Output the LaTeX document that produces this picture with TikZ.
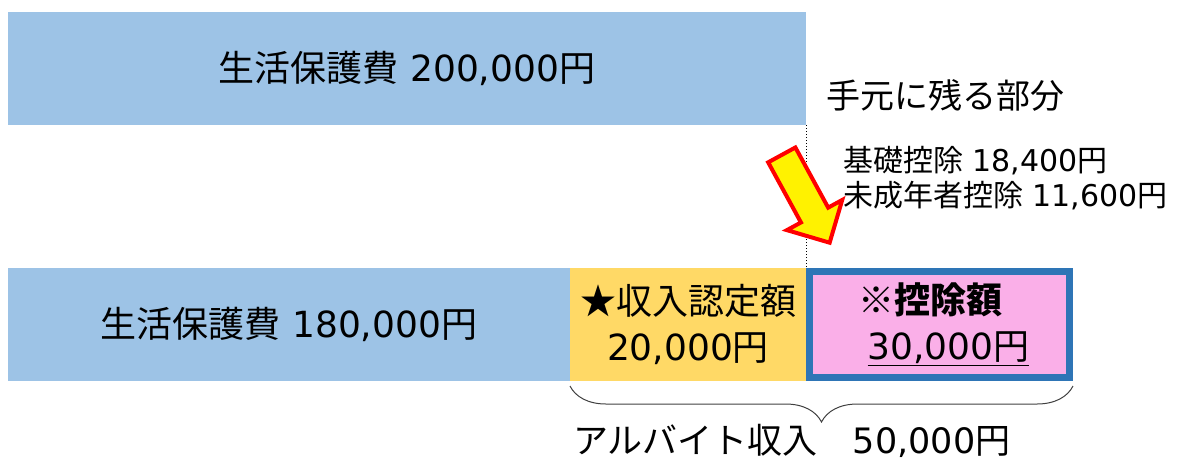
\documentclass[tikz,border=0pt]{standalone}
\usepackage{fontspec}
\setmainfont{Noto Sans CJK JP}
\newfontfamily\sujifont{DejaVu Sans}
\newcommand{\suji}[1]{{\sujifont #1}}
\usepackage{tikz}
\usetikzlibrary{shapes.arrows, positioning, decorations.pathreplacing}
\definecolor{hogo}{RGB}{157,195,230}
\definecolor{nintei}{RGB}{255,217,102}
\definecolor{koujo}{RGB}{250,175,232}
\definecolor{waku}{RGB}{46,117,182}

\begin{document}
\begin{tikzpicture}[
  x=1pt, y=-1pt,
  bar/.style={rectangle, fill=hogo, inner sep=0pt, outer sep=0pt,
              minimum height=113pt, align=center, font=\fontsize{36}{46}\selectfont},
  note/.style={anchor=west, inner sep=0pt, align=left},
  arr/.style={single arrow, draw=red, fill=yellow, line width=4pt,
              inner sep=13.5pt, single arrow head extend=16pt,
              single arrow tip angle=90, minimum height=100pt}
]
  \useasboundingbox (0,0) rectangle (1187,464);

  \node[bar, minimum width=798pt, anchor=north west] (top) at (8,12) {生活保護費\suji{\ 200,000}円};
  \node[bar, minimum width=562pt, anchor=north west] (low) at (8,268) {生活保護費\suji{\ 180,000}円};
  \node[bar, fill=nintei, minimum width=236pt, right=0pt of low] (ninteigaku)
    {★収入認定額\\\suji{20,000}円};
  \node[bar, fill=koujo, draw=waku, line width=7pt, outer sep=3.5pt,
        minimum width=260pt, minimum height=106pt, right=0pt of ninteigaku] (koujogaku)
    {{\bfseries ※控除額}\hspace*{18pt}\\\hspace*{18pt}\underline{\suji{30,000}円}};

  \draw[dotted, line width=1pt] (top.south east) -- (ninteigaku.north east);

  \node[note, font=\fontsize{34}{40}\selectfont] (temoto) at (826,95) {手元に残る部分};
  \node[note, font=\fontsize{30}{35}\selectfont] (uchiwake) at (843,178)
    {基礎控除\suji{\ 18,400}円\\未成年者控除\suji{\ 11,600}円};
  \node[arr, rotate=-61.4] (yajirushi) at (802,192) {};

  \draw[decorate, decoration={brace, mirror, amplitude=36pt}, line width=1pt, black!75]
    ([yshift=-5pt]ninteigaku.south west) -- ([yshift=-5pt]koujogaku.south east);
  \node[note, font=\fontsize{35}{40}\selectfont] (arubaito) at (573,441) {アルバイト収入　\suji{50,000}円};
\end{tikzpicture}
\end{document}
